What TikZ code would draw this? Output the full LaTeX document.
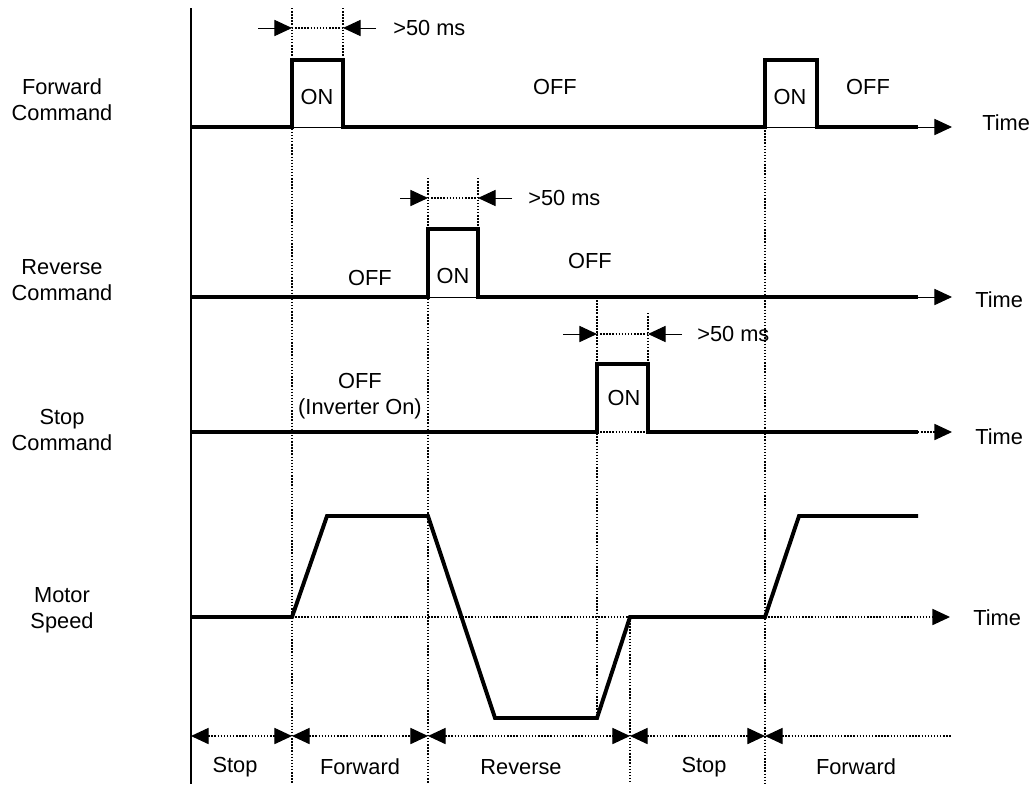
\documentclass[tikz,border=0pt]{standalone}
\usepackage{fontspec}
\setmainfont{Liberation Sans}
\usetikzlibrary{arrows.meta}

\begin{document}
\begin{tikzpicture}[x=0.025cm, y=-0.025cm,
    every node/.style={font=\fontsize{15.5pt}{18.5pt}\selectfont, inner sep=0pt},
    signal/.style={line width=2.8pt, line join=miter},
    guide/.style={dash pattern=on 1pt off 1.2pt, line width=0.8pt},
    fine/.style={line width=0.7pt},
    tip/.style={-{Triangle[length=12.5pt, width=11.5pt]}},
    span/.style={guide, {Triangle[length=12.5pt, width=11.5pt]}-{Triangle[length=12.5pt, width=11.5pt]}}]

    % Define time instants (pixels)
    \def\tA{292} \def\tB{343} % forward pulse
    \def\tC{428} \def\tD{478} % reverse pulse
    \def\tE{597} \def\tF{648} % stop pulse
    \def\tG{630}              % speed back to zero
    \def\tH{765} \def\tI{817} % second forward pulse
    \def\tEnd{918} \def\tArr{952}

    % Define signal levels
    \def\fwLo{127} \def\fwHi{60}
    \def\rvLo{297} \def\rvHi{229}
    \def\stLo{432} \def\stHi{364}
    \def\mZero{617} \def\mTop{516} \def\mBot{718}

    \useasboundingbox (0,0) rectangle (1029,784);

    % Draw vertical axis
    \draw[line width=1pt] (191,8) -- (191,784);

    % Draw guide lines
    \draw[guide] (\tA,8) -- (\tA,784);
    \draw[guide] (\tB,8) -- (\tB,\fwHi);
    \draw[guide] (\tC,178) -- (\tC,784);
    \draw[guide] (\tD,178) -- (\tD,\rvHi);
    \draw[guide] (\tE,\rvLo) -- (\tE,\mBot);
    \draw[guide] (\tE,313) -- (\tE,\stHi);
    \draw[guide] (\tF,313) -- (\tF,\stHi);
    \draw[guide] (\tG,\mZero) -- (\tG,784);
    \draw[guide] (\tH,\fwLo) -- (\tH,784);

    % Row labels
    \node[align=center] (fwdLabel) at (62,100) {Forward\\Command};
    \node[align=center] (revLabel) at (62,280) {Reverse\\Command};
    \node[align=center] (stopLabel) at (62,430) {Stop\\Command};
    \node[align=center] (motorLabel) at (62,610) {Motor\\Speed};

    % Draw forward command
    \draw[fine] (\tA,\fwLo) -- (\tB,\fwLo);
    \draw[fine] (\tH,\fwLo) -- (\tI,\fwLo);
    \draw[signal] (191,\fwLo) -- (\tA,\fwLo) -- (\tA,\fwHi) -- (\tB,\fwHi) -- (\tB,\fwLo)
        -- (\tH,\fwLo) -- (\tH,\fwHi) -- (\tI,\fwHi) -- (\tI,\fwLo) -- (\tEnd,\fwLo);
    \draw[fine, tip] (\tEnd,\fwLo) -- (\tArr,\fwLo);
    \node[anchor=west] (fwdTime) at (982,123) {Time};
    \node (fwdOn) at (317,97) {ON};
    \node (fwdOff) at (555,87) {OFF};
    \node (fwdOnB) at (790,97) {ON};
    \node (fwdOffB) at (868,87) {OFF};

    % Forward pulse width
    \draw[fine, tip] (258,28) -- (\tA,28);
    \draw[guide] (\tA,28) -- (\tB,28);
    \draw[fine, tip] (376,28) -- (\tB,28);
    \node[anchor=west] (fwdGap) at (393,28) {>50 ms};

    % Draw reverse command
    \draw[fine] (\tC,\rvLo) -- (\tD,\rvLo);
    \draw[signal] (191,\rvLo) -- (\tC,\rvLo) -- (\tC,\rvHi) -- (\tD,\rvHi) -- (\tD,\rvLo) -- (\tEnd,\rvLo);
    \draw[fine, tip] (\tEnd,\rvLo) -- (\tArr,\rvLo);
    \node[anchor=west] (revTime) at (975,300) {Time};
    \node (revOff) at (370,278) {OFF};
    \node (revOn) at (453,276) {ON};
    \node (revOffB) at (590,261) {OFF};

    % Reverse pulse width
    \draw[fine, tip] (400,198) -- (\tC,198);
    \draw[guide] (\tC,198) -- (\tD,198);
    \draw[fine, tip] (512,198) -- (\tD,198);
    \node[anchor=west] (revGap) at (528,198) {>50 ms};

    % Draw stop command
    \draw[guide] (\tE,\stLo) -- (\tF,\stLo);
    \draw[signal] (191,\stLo) -- (\tE,\stLo) -- (\tE,\stHi) -- (\tF,\stHi) -- (\tF,\stLo) -- (\tEnd,\stLo);
    \draw[guide, tip] (\tEnd,\stLo) -- (\tArr,\stLo);
    \node[anchor=west] (stopTime) at (975,437) {Time};
    \node[align=center] (stopOff) at (360,396) {OFF\\(Inverter On)};
    \node (stopOn) at (624,398) {ON};

    % Stop pulse width
    \draw[fine, tip] (563,334) -- (\tE,334);
    \draw[guide] (\tE,334) -- (\tF,334);
    \draw[fine, tip] (682,334) -- (\tF,334);
    \node[anchor=west] (stopGap) at (697,334) {>50 ms};

    % Draw motor speed
    \draw[guide] (\tA,\mZero) -- (\tG,\mZero);
    \draw[guide, tip] (\tH,\mZero) -- (950,\mZero);
    \draw[signal] (191,\mZero) -- (\tA,\mZero) -- (327,\mTop) -- (\tC,\mTop) -- (495,\mBot)
        -- (\tE,\mBot) -- (\tG,\mZero) -- (\tH,\mZero) -- (799,\mTop) -- (\tEnd,\mTop);
    \node[anchor=west] (motorTime) at (973,618) {Time};

    % Draw operating intervals
    \draw[span] (191,736) -- (\tA,736);
    \draw[span] (\tA,736) -- (\tC,736);
    \draw[span] (\tC,736) -- (\tG,736);
    \draw[span] (\tG,736) -- (\tH,736);
    \draw[guide, {Triangle[length=12.5pt, width=11.5pt]}-] (\tH,736) -- (\tArr,736);
    \node (stopA) at (235,767) {Stop};
    \node (fwdA) at (360,767) {Forward};
    \node (revA) at (521,767) {Reverse};
    \node (stopB) at (704,767) {Stop};
    \node (fwdB) at (856,767) {Forward};

\end{tikzpicture}
\end{document}
